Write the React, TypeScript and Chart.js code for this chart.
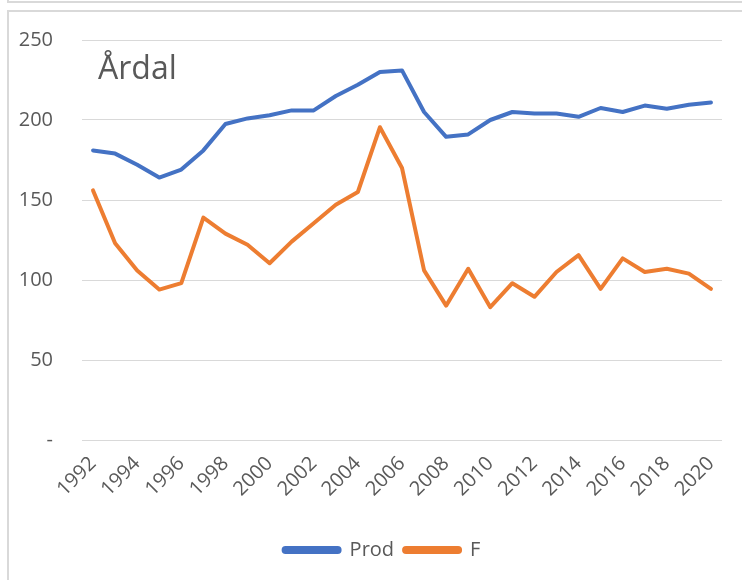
import React, { useEffect, useRef } from "react";
import { Chart, registerables } from "chart.js";

Chart.register(...registerables);

const years: string[] = [
  "1992", "1993", "1994", "1995", "1996", "1997", "1998", "1999", "2000", "2001",
  "2002", "2003", "2004", "2005", "2006", "2007", "2008", "2009", "2010", "2011",
  "2012", "2013", "2014", "2015", "2016", "2017", "2018", "2019", "2020",
];

const prodValues: number[] = [
  181, 179, 172, 164, 169, 181, 197.5, 201, 203, 206,
  206, 215, 222, 230, 231, 205, 189.5, 191, 200, 205,
  204, 204, 202, 207.5, 205, 209, 207, 209.5, 211,
];

const fValues: number[] = [
  156, 123, 106, 94, 98, 139, 129, 122, 110.5, 124,
  135.5, 147, 155, 195.5, 170, 106, 84, 107, 83, 98,
  89.5, 105, 115.5, 94.5, 113.5, 105, 107, 104, 94.5,
];

const yTicks: number[] = [0, 50, 100, 150, 200, 250];

const chartTitle = "Årdal";
const seriesNames = ["Prod", "F"];

const textColor = "#595959";
const gridColor = "#d9d9d9";
const fontFamily = "'Open Sans', sans-serif";

const titlePlugin = {
  id: "insideTitle",
  afterLayout(chart: any) {
    // let the y tick labels extend into the left padding without being clipped
    if (chart.scales.y) chart.scales.y.left = 0;
  },
  afterDraw(chart: any) {
    const ctx = chart.ctx;
    ctx.save();
    ctx.font = `32px ${fontFamily}`;
    ctx.fillStyle = textColor;
    ctx.textAlign = "left";
    ctx.textBaseline = "alphabetic";
    ctx.fillText(chartTitle, chart.chartArea.left + 16, chart.chartArea.top + 39);
    ctx.restore();
  },
};

export default function App() {
  const canvasRef = useRef<HTMLCanvasElement | null>(null);

  useEffect(() => {
    if (!canvasRef.current) return;
    const chart = new Chart(canvasRef.current, {
      type: "line",
      data: {
        labels: years,
        datasets: [
          {
            label: seriesNames[0],
            data: prodValues,
            borderColor: "#4472C4",
            backgroundColor: "#4472C4",
            borderWidth: 4,
            pointRadius: 0,
            pointHoverRadius: 0,
            tension: 0,
            borderJoinStyle: "round",
            borderCapStyle: "round",
          },
          {
            label: seriesNames[1],
            data: fValues,
            borderColor: "#ED7D31",
            backgroundColor: "#ED7D31",
            borderWidth: 4,
            pointRadius: 0,
            pointHoverRadius: 0,
            tension: 0,
            borderJoinStyle: "round",
            borderCapStyle: "round",
          },
        ],
      },
      options: {
        responsive: false,
        animation: false,
        layout: { padding: { top: 28, right: 20, left: 33, bottom: 10 } },
        plugins: {
          tooltip: { enabled: false },
          legend: {
            position: "bottom",
            labels: {
              boxWidth: 56,
              boxHeight: 4,
              useBorderRadius: true,
              borderRadius: 2,
              padding: 10,
              color: textColor,
              font: { family: fontFamily, size: 20 },
            },
          },
        },
        scales: {
          x: {
            type: "category",
            offset: true,
            grid: { display: false },
            border: { display: false },
            ticks: {
              autoSkip: false,
              minRotation: 45,
              maxRotation: 45,
              padding: 4,
              color: textColor,
              font: { family: fontFamily, size: 20 },
              callback: (_v: any, i: number) => (i % 2 === 0 ? years[i] : ""),
            },
            afterFit: (scale: any) => {
              scale.height = 90;
              scale.paddingLeft = 0;
              scale.paddingRight = 0;
            },
          },
          y: {
            min: yTicks[0],
            max: yTicks[yTicks.length - 1],
            grid: { color: gridColor, lineWidth: 1, drawTicks: false },
            border: { display: false },
            afterBuildTicks: (scale: any) => {
              scale.ticks = yTicks.map((v) => ({ value: v }));
            },
            ticks: {
              padding: 29,
              color: textColor,
              font: { family: fontFamily, size: 20 },
              callback: (v: any) => (Number(v) === 0 ? "-" : String(v)),
            },
            afterFit: (scale: any) => {
              scale.width = 40;
              scale.paddingTop = 0;
              scale.paddingBottom = 0;
            },
          },
        },
      },
      plugins: [titlePlugin],
    });
    return () => chart.destroy();
  }, []);

  return (
    <div style={{ position: "absolute", left: 0, top: 0, width: 742, height: 580, overflow: "hidden", background: "#fff" }}>
      <div
        style={{
          position: "absolute",
          left: 7,
          top: -10,
          width: 735,
          height: 11,
          borderLeft: `2px solid ${gridColor}`,
          borderBottom: `2px solid ${gridColor}`,
        }}
      />
      <div
        style={{
          position: "absolute",
          left: 7,
          top: 10,
          width: 740,
          height: 580,
          borderLeft: `2px solid ${gridColor}`,
          borderTop: `2px solid ${gridColor}`,
        }}
      />
      <canvas
        ref={canvasRef}
        width={733}
        height={568}
        style={{ position: "absolute", left: 9, top: 12, width: 733, height: 568 }}
      />
    </div>
  );
}
